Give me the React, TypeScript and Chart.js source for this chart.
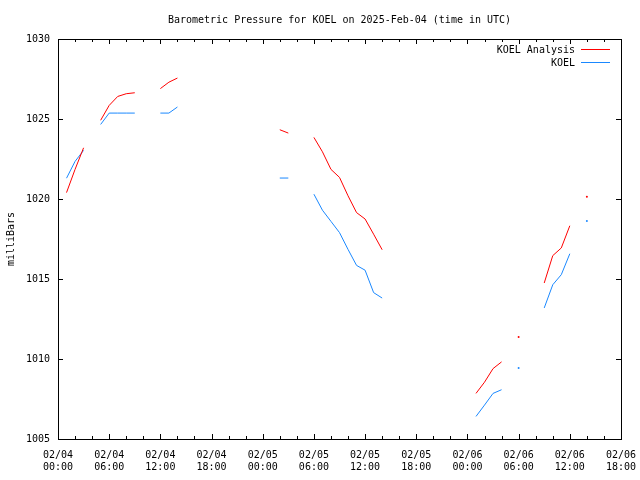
import React, { useEffect, useRef } from "react";
import { Chart, registerables } from "chart.js";

Chart.register(...registerables);

const TITLE = "Barometric Pressure for KOEL on 2025-Feb-04 (time in UTC)";
const Y_LABEL = "milliBars";
const SERIES_NAMES = ["KOEL Analysis", "KOEL"];
const SERIES_COLORS = ["#ff0000", "#1a88ff"];

// hours since 2025-02-04 00:00 UTC (null values break the line)
const HOURS = [
  1, 2, 3, 4, 5, 6, 7, 8, 9, 10, 12, 13, 14, 15, 26, 27, 28, 30, 31, 32, 33, 34, 35, 36, 37, 38, 39,
  49, 50, 51, 52, 53, 54, 55, 57, 58, 59, 60, 61, 62,
];
const ANALYSIS: (number | null)[] = [
  1020.4, 1021.85, 1023.2, null, 1024.92, 1025.85, 1026.41, 1026.58, 1026.64, null,
  1026.9, 1027.3, 1027.56, null, 1024.33, 1024.12, null,
  1023.85, 1022.95, 1021.85, 1021.35, 1020.2, 1019.15, 1018.75, 1017.8, 1016.83, null,
  1007.85, 1008.55, 1009.4, 1009.82, null, 1011.38, null,
  1014.75, 1016.46, 1016.94, 1018.33, null, 1020.14,
];
const KOEL: (number | null)[] = [
  1021.3, 1022.35, 1023.04, null, 1024.66, 1025.37, 1025.37, 1025.37, 1025.37, null,
  1025.37, 1025.37, 1025.75, null, 1021.31, 1021.31, null,
  1020.3, 1019.3, 1018.6, 1017.9, 1016.85, 1015.85, 1015.55, 1014.15, 1013.81, null,
  1006.41, 1007.12, 1007.85, 1008.08, null, 1009.44, null,
  1013.19, 1014.64, 1015.27, 1016.58, null, 1018.63,
];

const X_TICK_DATES = ["02/04", "02/04", "02/04", "02/04", "02/05", "02/05", "02/05", "02/05", "02/06", "02/06", "02/06", "02/06"];
const X_TICK_TIMES = ["00:00", "06:00", "12:00", "18:00", "00:00", "06:00", "12:00", "18:00", "00:00", "06:00", "12:00", "18:00"];
const X_MIN = 0;
const X_MAX = 66;
const X_STEP = 6;
const X_MINOR_STEP = 2;
const Y_MIN = 1005;
const Y_MAX = 1030;
const Y_STEP = 5;

const FONT = '"DejaVu Sans Mono", monospace';

function isolatedRadius(values: (number | null)[]) {
  return (c: any) => {
    const i = c.dataIndex;
    const v = values[i];
    const prev = i > 0 ? values[i - 1] : null;
    const next = i < values.length - 1 ? values[i + 1] : null;
    return v != null && prev == null && next == null ? 1 : 0;
  };
}

const framePlugin = {
  id: "gnuframe",
  afterDraw(chart: any) {
    const ctx = chart.ctx;
    const { left, right, top, bottom } = chart.chartArea;
    const xs = chart.scales.x;
    const ys = chart.scales.y;
    ctx.save();
    ctx.strokeStyle = "#000";
    ctx.lineWidth = 1;
    ctx.strokeRect(Math.round(left) + 0.5, Math.round(top) + 0.5, Math.round(right - left), Math.round(bottom - top));
    ctx.beginPath();
    for (let v = X_MIN; v <= X_MAX; v += X_MINOR_STEP) {
      const px = Math.round(xs.getPixelForValue(v)) + 0.5;
      const len = v % X_STEP === 0 ? 5 : 3;
      ctx.moveTo(px, bottom);
      ctx.lineTo(px, bottom - len);
      ctx.moveTo(px, top);
      ctx.lineTo(px, top + len);
    }
    for (let v = Y_MIN; v <= Y_MAX; v += Y_STEP) {
      const py = Math.round(ys.getPixelForValue(v)) + 0.5;
      ctx.moveTo(left, py);
      ctx.lineTo(left + 5, py);
      ctx.moveTo(right, py);
      ctx.lineTo(right - 5, py);
    }
    ctx.stroke();

    ctx.fillStyle = "#000";
    ctx.font = "10px " + FONT;
    ctx.textBaseline = "middle";
    ctx.textAlign = "center";
    ctx.fillText(TITLE, (left + right) / 2, 20);

    ctx.textAlign = "right";
    const legendY = [49.5, 62.5];
    SERIES_NAMES.forEach((name, i) => {
      ctx.fillStyle = "#000";
      ctx.fillText(name, 575, legendY[i] + 0.5);
      ctx.strokeStyle = SERIES_COLORS[i];
      ctx.beginPath();
      ctx.moveTo(581, legendY[i]);
      ctx.lineTo(610, legendY[i]);
      ctx.stroke();
    });
    ctx.restore();
  },
};

export default function App() {
  const ref = useRef<HTMLCanvasElement>(null);
  useEffect(() => {
    if (!ref.current) return;
    const series = [ANALYSIS, KOEL];
    const chart = new Chart(ref.current, {
      type: "line",
      data: {
        datasets: series.map((vals, si) => ({
          label: SERIES_NAMES[si],
          data: HOURS.map((h, i) => ({ x: h, y: vals[i] })) as any,
          borderColor: SERIES_COLORS[si],
          backgroundColor: SERIES_COLORS[si],
          borderWidth: 1,
          pointRadius: isolatedRadius(vals),
          pointBorderWidth: 0,
          pointHoverRadius: 0,
          spanGaps: false,
          tension: 0,
          fill: false,
        })),
      },
      options: {
        animation: false,
        responsive: false,
        events: [],
        layout: { padding: { left: 0, right: 19, top: 39, bottom: 0 } },
        plugins: {
          legend: { display: false },
          title: { display: false },
          tooltip: { enabled: false },
        },
        scales: {
          x: {
            type: "linear",
            min: X_MIN,
            max: X_MAX,
            grid: { display: false, drawTicks: false },
            border: { display: false },
            ticks: {
              stepSize: X_STEP,
              autoSkip: false,
              maxRotation: 0,
              padding: 10,
              color: "#000",
              font: { family: FONT, size: 10, lineHeight: 1.2 },
              callback: (value: any) => {
                const idx = Math.round((Number(value) - X_MIN) / X_STEP);
                return [X_TICK_DATES[idx], X_TICK_TIMES[idx]];
              },
            },
            afterFit: (s: any) => {
              s.height = 41;
              s.paddingLeft = 0;
              s.paddingRight = 0;
            },
          },
          y: {
            min: Y_MIN,
            max: Y_MAX,
            grid: { display: false, drawTicks: false },
            border: { display: false },
            ticks: {
              stepSize: Y_STEP,
              padding: 8,
              color: "#000",
              font: { family: FONT, size: 10 },
              callback: (value: any) => String(value),
            },
            title: {
              display: true,
              text: Y_LABEL,
              color: "#000",
              font: { family: FONT, size: 10 },
              padding: { top: 5, bottom: 0 },
            },
            afterFit: (s: any) => {
              s.width = 58;
              s.paddingTop = 0;
              s.paddingBottom = 0;
            },
          },
        },
      },
      plugins: [framePlugin],
    });
    return () => chart.destroy();
  }, []);
  return (
    <div style={{ position: "absolute", left: 0, top: 0, width: 640, height: 480, background: "#fff" }}>
      <canvas ref={ref} width={640} height={480} />
    </div>
  );
}
